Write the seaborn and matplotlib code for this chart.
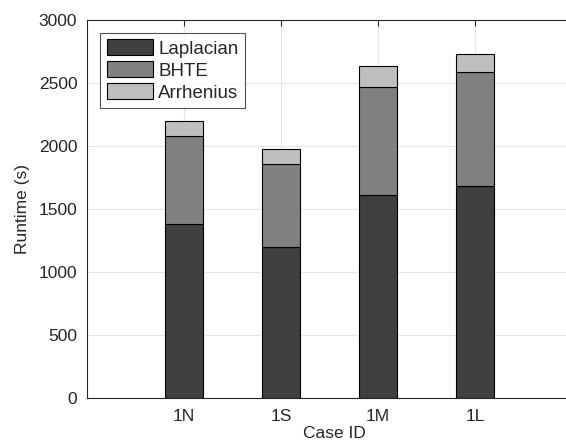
import matplotlib
matplotlib.use("Agg")
import matplotlib.pyplot as plt
import numpy as np
import pandas as pd
import seaborn as sns

cases = ["1N", "1S", "1M", "1L"]
laplacian = [1376, 1196, 1608, 1683]
bhte = [698, 658, 858, 904]
arrhenius = [122, 117, 169, 143]

sns.set_style("white")
plt.rcParams["font.family"] = ["Liberation Sans", "DejaVu Sans"]

df = pd.DataFrame({"case": cases, "Laplacian": laplacian,
                   "BHTE": bhte, "Arrhenius": arrhenius})

fig = plt.figure(figsize=(5.66, 4.43), dpi=100)
# axes run past the right edge of the figure, so the right side is cut off
ax = fig.add_axes([0.1537, 0.1027, 0.875, 0.853])

layers = [("Laplacian", "#404040"), ("BHTE", "#808080"), ("Arrhenius", "#bfbfbf")]
bottom = np.zeros(len(cases))
for name, color in layers:
    sns.barplot(data=df, x="case", y=name, color=color, bottom=bottom,
                width=0.4, edgecolor="black", linewidth=0.8, label=name,
                saturation=1, ax=ax)
    bottom = bottom + df[name].to_numpy()

ax.set_xlim(-1, -1 + 0.875 * 566 / 97)
ax.set_ylim(0, 3000)
ax.set_yticks(np.arange(0, 3001, 500))
ax.grid(True, color="#e6e6e6", linewidth=0.8)
ax.set_axisbelow(True)
ax.tick_params(direction="in", top=True, right=False, length=4,
               labelsize=12.5, colors="#262626")
ax.tick_params(axis="x", pad=8)
ax.tick_params(axis="y", pad=7)
for s in ax.spines.values():
    s.set_color("#262626")
    s.set_linewidth(0.8)
ax.spines["right"].set_visible(False)
ax.set_xlabel("Case ID", fontsize=12.5, color="#262626", labelpad=2)
ax.set_ylabel("Runtime (s)", fontsize=12.5, color="#262626", labelpad=6)

leg = ax.legend(loc="upper left", fontsize=13.5, frameon=True, fancybox=False,
                edgecolor="#262626", borderpad=0.35, handlelength=2.45,
                handleheight=0.9, labelspacing=0.2, handletextpad=0.3,
                borderaxespad=0.7)
leg.get_frame().set_linewidth(0.8)

fig.savefig("out.png", dpi=100)
